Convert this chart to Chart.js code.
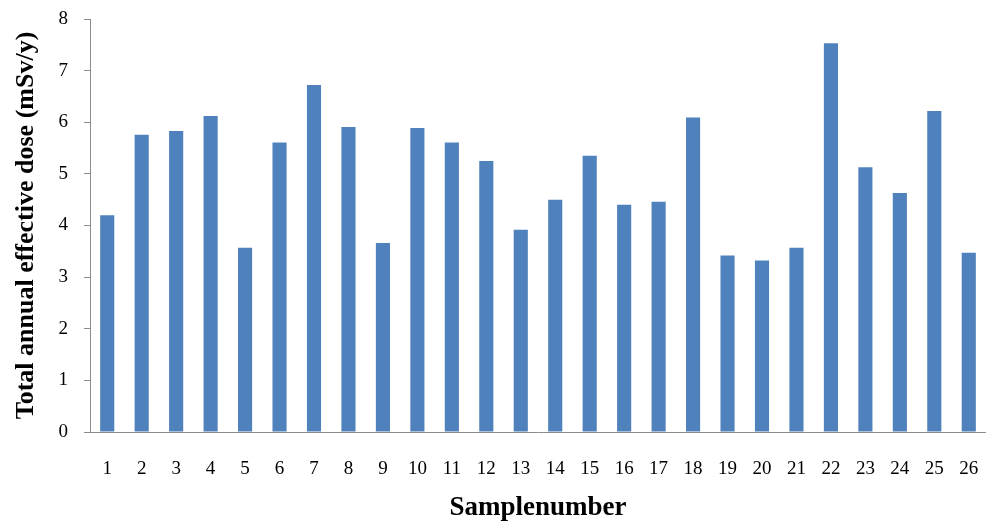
<!DOCTYPE html>
<html>
<head>
<meta charset="utf-8">
<script src="https://cdn.jsdelivr.net/npm/chart.js@4/dist/chart.umd.min.js"></script>
<style>
  html, body { margin: 0; padding: 0; background: #fff; }
  #wrap { width: 986px; height: 524px; position: relative; }
</style>
</head>
<body>
<div id="wrap"><canvas id="dose_bar"></canvas></div>
<script>
// values
const samples = ["1","2","3","4","5","6","7","8","9","10","11","12","13",
                 "14","15","16","17","18","19","20","21","22","23","24","25","26"];
const doses = [4.20, 5.76, 5.83, 6.12, 3.57, 5.61, 6.72, 5.91, 3.66, 5.89, 5.61, 5.25, 3.92,
               4.50, 5.35, 4.40, 4.46, 6.09, 3.42, 3.32, 3.57, 7.53, 5.13, 4.63, 6.22, 3.47];
const yTicks = [0, 1, 2, 3, 4, 5, 6, 7, 8];

const SERIF = '"Liberation Serif", "Times New Roman", serif';
const AXIS_GRAY = "#8c8c8c";

function renderChart() {
  const el = document.getElementById("dose_bar");
  new Chart(el, {
    type: "bar",
    data: {
      labels: samples,
      datasets: [{
        data: doses,
        backgroundColor: "#4F81BD",
        borderWidth: 0,
        categoryPercentage: 1,
        barPercentage: 0.41,
      }],
    },
    options: {
      responsive: true,
      maintainAspectRatio: false,
      animation: false,
      layout: { padding: { top: 19, right: 0, left: 0, bottom: 0 } },
      scales: {
        x: {
          // no visible tick marks, tickLength only used as gap above the labels
          grid: { display: false, drawTicks: true, tickLength: 26 },
          border: { display: true, color: AXIS_GRAY, width: 1 },
          ticks: { color: "#000", padding: 0, maxRotation: 0, autoSkip: false,
                   font: { family: SERIF, size: 19 } },
          title: { display: true, text: "Samplenumber", color: "#000",
                   font: { family: SERIF, size: 27, weight: "bold" },
                   padding: { top: 0, bottom: 0 } },
          afterFit: (s) => { s.height = 92; },
        },
        y: {
          min: 0,
          max: 8,
          afterBuildTicks: (s) => { s.ticks = yTicks.map((v) => ({ value: v })); },
          grid: { drawOnChartArea: false, drawTicks: true, tickLength: 6, color: AXIS_GRAY },
          border: { display: true, color: AXIS_GRAY, width: 1 },
          ticks: { color: "#000", padding: 16, font: { family: SERIF, size: 19 } },
          title: { display: true, text: "Total annual effective dose (mSv/y)", color: "#000",
                   font: { family: SERIF, size: 26, weight: "bold" },
                   padding: { top: 11, bottom: 0 } },
          afterFit: (s) => {
            s.width = 90;
            s.paddingTop = 0; // let layout.padding decide where 8 sits
            s.paddingBottom = 0;
          },
        },
      },
      plugins: {
        legend: { display: false },
        tooltip: { enabled: false },
      },
    },
  });
}

document.addEventListener("DOMContentLoaded", renderChart);
</script>
</body>
</html>
